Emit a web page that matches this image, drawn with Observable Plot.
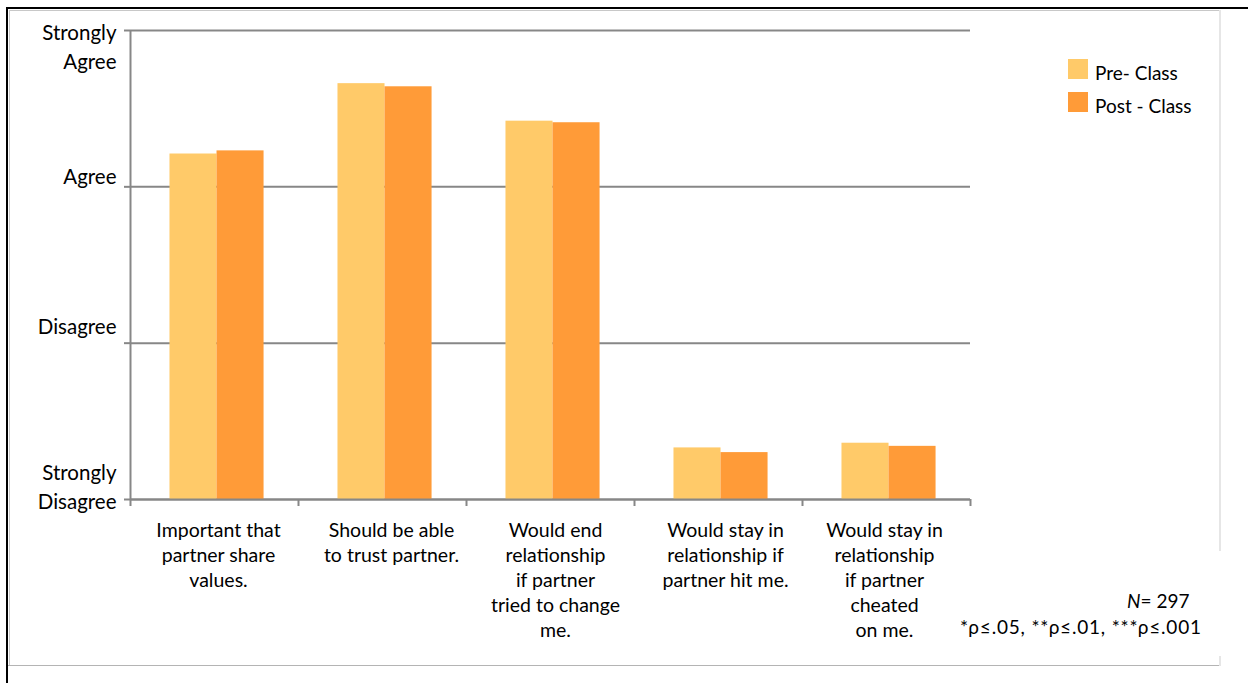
<!DOCTYPE html>
<html>
<head>
<meta charset="utf-8">
<script src="https://cdn.jsdelivr.net/npm/d3@7"></script>
<script src="https://cdn.jsdelivr.net/npm/@observablehq/plot@0.6"></script>
<style>
  html, body { margin: 0; padding: 0; background: #fff; }
  #wrap { position: relative; width: 1248px; height: 683px; overflow: hidden; font-family: Lato, "Open Sans", sans-serif; color: #000; }
  #wrap svg { position: absolute; left: 0; top: 0; }
  .ln { position: absolute; }
  .legend { position: absolute; left: 1068px; top: 59px; font-size: 19px; }
  .legend .row { display: flex; align-items: flex-start; height: 33px; }
  .legend .sw { width: 20px; height: 20px; margin-right: 7px; }
  .legend span { line-height: 20px; padding-top: 4px; }
  .note { position: absolute; font-size: 19px; white-space: nowrap; }
</style>
</head>
<body>
<div id="wrap">
  <div class="ln" style="left:7px;top:7px;width:1241px;height:2px;background:#000"></div>
  <div class="ln" style="left:6px;top:7px;width:2px;height:676px;background:#000"></div>
  <div class="ln" style="left:9px;top:10px;width:1210px;height:1px;background:#c8c8c8"></div>
  <div class="ln" style="left:9px;top:10px;width:1px;height:655px;background:#c8c8c8"></div>
  <div class="ln" style="left:8px;top:665px;width:1212px;height:1px;background:#b4b4b4"></div>
  <div class="ln" style="left:1219px;top:10px;width:2px;height:541px;background:#e6e6e6"></div>
  <div class="ln" style="left:1219px;top:656px;width:2px;height:10px;background:#e6e6e6"></div>
  <div id="chart"></div>
  <div class="legend">
    <div class="row"><div class="sw" id="sw0"></div><span id="lg0"></span></div>
    <div class="row"><div class="sw" id="sw1"></div><span id="lg1"></span></div>
  </div>
  <div class="note" style="left:1127px;top:589px"><i>N</i>= 297</div>
  <div class="note" style="left:960px;top:615px;letter-spacing:0.8px">*ρ≤.05, **ρ≤.01, ***ρ≤.001</div>
</div>
<script>
// ---- data ----
const categories = [
  "Important that\npartner share\nvalues.",
  "Should be able\nto trust partner.",
  "Would end\nrelationship\nif partner\ntried to change\nme.",
  "Would stay in\nrelationship if\npartner hit me.",
  "Would stay in\nrelationship\nif partner\ncheated\non me."
];
const preClass  = [3.21, 3.66, 3.42, 1.33, 1.36];
const postClass = [3.23, 3.64, 3.41, 1.30, 1.34];
const seriesNames = ["Pre- Class", "Post - Class"];
const seriesColors = ["#FFCA69", "#FF9B38"];
const yLevels = [1, 2, 3, 4];
const yLabels = ["Strongly\nDisagree", "Disagree", "Agree", "Strongly\nAgree"];

// ---- build ----
const rows = categories.map((c, i) => ({i, cat: c, pre: preClass[i], post: postClass[i]}));
const gray = "#878787";
const yOffsets = {1: -14, 2: -18, 3: -12, 4: 15};
const xLabelShift = [4, 9, 5, 7, -2];

document.getElementById("sw0").style.background = seriesColors[0];
document.getElementById("sw1").style.background = seriesColors[1];
document.getElementById("lg0").textContent = seriesNames[0];
document.getElementById("lg1").textContent = seriesNames[1];

const chart = Plot.plot({
  width: 1248,
  height: 683,
  marginLeft: 130,
  marginRight: 278,
  marginTop: 30,
  marginBottom: 184,
  style: {fontFamily: "Lato, 'Open Sans', sans-serif", background: "transparent", color: "#000", overflow: "visible"},
  x: {domain: [0, categories.length]},
  y: {domain: [1, 4]},
  marks: [
    Plot.gridY(yLevels, {stroke: gray, strokeOpacity: 1, strokeWidth: 2}),
    Plot.ruleX([0], {stroke: gray, strokeWidth: 2}),
    Plot.rectY(rows, {x1: d => d.i + 0.235, x2: d => d.i + 0.515, y1: 1, y2: "pre", fill: seriesColors[0]}),
    Plot.rectY(rows, {x1: d => d.i + 0.515, x2: d => d.i + 0.795, y1: 1, y2: "post", fill: seriesColors[1]}),
    Plot.ruleY([1], {stroke: gray, strokeWidth: 2}),
    Plot.axisX({ticks: d3.range(categories.length + 1), tickSize: 7, tickFormat: () => "", stroke: gray, strokeWidth: 2, label: null}),
    ...categories.map((c, i) => Plot.axisX({ticks: [i + 0.5], tickSize: 0, tickPadding: 20, dx: xLabelShift[i],
      tickFormat: () => c, lineHeight: 1.28, fontSize: 19.5, fill: "#000", label: null})),
    Plot.axisY({ticks: yLevels, tickSize: 6, tickFormat: () => "", stroke: gray, strokeWidth: 2, label: null}),
    ...yLevels.map((lv, k) => Plot.axisY({ticks: [lv], tickSize: 0, tickPadding: 14, dy: yOffsets[lv],
      tickFormat: () => yLabels[k], lineHeight: 1.39, fontSize: 20.5, fill: "#000", label: null}))
  ]
});
document.getElementById("chart").appendChild(chart);
</script>
</body>
</html>
